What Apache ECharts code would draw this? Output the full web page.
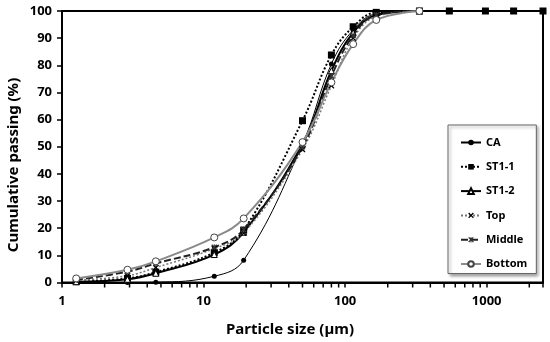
<!DOCTYPE html>
<html><head><meta charset="utf-8">
<script src="https://cdn.jsdelivr.net/npm/echarts@6/dist/echarts.min.js"></script>
<style>html,body{margin:0;padding:0;background:#fff}#c{width:550px;height:342px}</style>
</head><body><div id="c"></div>
<script>
// Particle sizes (µm)
const sizes = [1.26, 2.9, 4.6, 11.9, 19.2, 50, 80, 114, 166, 335, 545, 980, 1550, 2500];
// Cumulative passing (%)
const CA     = [0, 0, 0.1, 2.3, 8.2, 51, 80.5, 93, 99, 100];
const ST1_1  = [0.3, 1.5, 3.8, 11, 19.3, 59.6, 83.8, 94.2, 99.5, 100, 100, 100, 100, 100];
const ST1_2  = [0.3, 1.2, 3.4, 10.3, 18.5, 51, 78, 92, 98.5, 100];
const Top    = [0.8, 2.5, 5.5, 12.5, 18.2, 49, 72.5, 90, 98, 100];
const Middle = [1.0, 4.0, 7.0, 13.0, 19.5, 50, 76, 91, 98.5, 100];
const Bottom = [1.5, 4.7, 7.8, 16.6, 23.6, 51.7, 73.7, 87.8, 96.7, 100];
const seriesNames = ['CA', 'ST1-1', 'ST1-2', 'Top', 'Middle', 'Bottom'];
const xTickLabels = [1, 10, 100, 1000];
const minorTicks = [2,3,4,5,6,7,8,9,20,30,40,50,60,70,80,90,200,300,400,500,600,700,800,900,2000];

const pair = vals => vals.map((v, i) => [sizes[i], v]);
const FONT = 'Noto Sans';
const xPath = 'path://M0,1.6 L1.6,0 L5,3.4 L8.4,0 L10,1.6 L6.6,5 L10,8.4 L8.4,10 L5,6.6 L1.6,10 L0,8.4 L3.4,5 Z';
const astPath = 'path://M0,1.6 L1.6,0 L5,3.4 L8.4,0 L10,1.6 L6.6,5 L10,8.4 L8.4,10 L5,6.6 L1.6,10 L0,8.4 L3.4,5 Z M4.2,0 L5.8,0 L5.8,10 L4.2,10 Z';

const chart = echarts.init(document.getElementById('c'), null, {renderer: 'canvas'});
chart.setOption({
  animation: false,
  backgroundColor: '#fff',
  grid: {left: 62, right: 7, top: 11, bottom: 59.5, show: true, borderColor: '#000', borderWidth: 2, backgroundColor: 'transparent'},
  xAxis: {
    type: 'log', logBase: 10, min: 1, max: 2500,
    axisLine: {lineStyle: {color: '#000', width: 2}},
    axisTick: {show: true, inside: false, length: 5, lineStyle: {color: '#000', width: 1.5}},
    axisLabel: {color: '#000', fontFamily: FONT, fontWeight: 'bold', fontSize: 13, margin: 12,
      formatter: v => xTickLabels.some(t => Math.abs(t - v) / t < 1e-6) ? String(Math.round(v)) : ''},
    splitLine: {show: false}
  },
  yAxis: {
    type: 'value', min: 0, max: 100, interval: 10,
    axisLine: {show: true, lineStyle: {color: '#000', width: 2}},
    axisTick: {show: true, inside: false, length: 5, lineStyle: {color: '#000', width: 1.5}},
    axisLabel: {color: '#000', fontFamily: FONT, fontWeight: 'bold', fontSize: 13, margin: 10},
    splitLine: {show: false}
  },
  legend: {
    orient: 'vertical', left: 448, top: 125,
    data: seriesNames,
    itemWidth: 20, itemHeight: 7, itemGap: 13.3,
    padding: [12, 9, 4, 12],
    backgroundColor: '#fff', borderColor: '#666', borderWidth: 1,
    shadowBlur: 3, shadowOffsetX: 2, shadowOffsetY: 2, shadowColor: 'rgba(0,0,0,0.35)',
    textStyle: {color: '#000', fontFamily: FONT, fontWeight: 'bold', fontSize: 11}
  },
  graphic: [
    {type: 'text', x: 290, y: 330, style: {text: 'Particle size (µm)', font: 'bold 15px "Noto Sans"', fill: '#000', textAlign: 'center', textVerticalAlign: 'middle'}},
    {type: 'text', x: 14, y: 165, rotation: Math.PI / 2, style: {text: 'Cumulative passing (%)', font: 'bold 15px "Noto Sans"', fill: '#000', textAlign: 'center', textVerticalAlign: 'middle'}}
  ],
  series: [
    {name: 'CA', type: 'line', data: pair(CA), smooth: 0.4, symbol: 'circle', symbolSize: 5,
      itemStyle: {color: '#000'}, lineStyle: {color: '#000', width: 1}},
    {name: 'ST1-1', type: 'line', data: pair(ST1_1), smooth: 0.4, symbol: 'rect', symbolSize: 7,
      itemStyle: {color: '#000'}, lineStyle: {color: '#000', width: 2, type: [2, 2]}},
    {name: 'ST1-2', type: 'line', data: pair(ST1_2), smooth: 0.4, symbol: 'triangle', symbolSize: 6,
      itemStyle: {color: '#fff', borderColor: '#000', borderWidth: 1}, lineStyle: {color: '#000', width: 2}},
    {name: 'Top', type: 'line', data: pair(Top), smooth: 0.4, symbol: xPath, symbolSize: 6,
      itemStyle: {color: '#000'}, lineStyle: {color: '#777', width: 1.5, type: [2, 2]}},
    {name: 'Middle', type: 'line', data: pair(Middle), smooth: 0.4, symbol: astPath, symbolSize: 6,
      itemStyle: {color: '#333'}, lineStyle: {color: '#222', width: 2, type: [7, 3]}},
    {name: 'Bottom', type: 'line', data: pair(Bottom), smooth: 0.4, symbol: 'circle', symbolSize: 7,
      itemStyle: {color: '#fff', borderColor: '#444', borderWidth: 1}, lineStyle: {color: '#8a8a8a', width: 2}},
    {name: 'minor', type: 'custom', silent: true, clip: false, z: 5,
      data: minorTicks.map(v => [v, 0]),
      encode: {x: 0, y: 1},
      renderItem: (params, api) => {
        const p = api.coord([api.value(0), 0]);
        return {type: 'line', shape: {x1: p[0], y1: p[1], x2: p[0], y2: p[1] + 5}, style: {stroke: '#000', lineWidth: 1.5}};
      }}
  ]
});
</script></body></html>
